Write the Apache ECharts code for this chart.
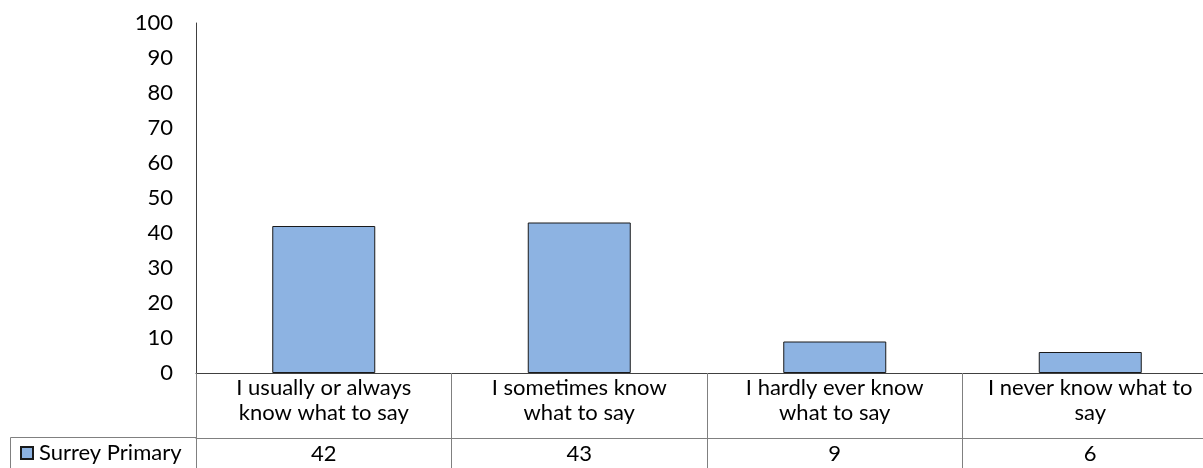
<!DOCTYPE html>
<html>
<head>
<meta charset="utf-8">
<script src="https://cdn.jsdelivr.net/npm/echarts@6/dist/echarts.min.js"></script>
<style>
html,body{margin:0;padding:0;background:#fff;overflow:hidden;width:1203px;height:468px;}
#c{width:1218px;height:468px;}
</style>
</head>
<body>
<div id="c"></div>
<script>
var categories = [
  "I usually or always\nknow what to say",
  "I sometimes know\nwhat to say",
  "I hardly ever know\nwhat to say",
  "I never know what to\nsay"
];
var seriesName = "Surrey Primary";
var values = [42, 43, 9, 6];
var yTicks = { min: 0, max: 100, interval: 10 };

var FONT = 'Lato';
var FS = 22;
var chart = echarts.init(document.getElementById('c'), null, { renderer: 'canvas' });
chart.setOption({
  animation: false,
  backgroundColor: '#ffffff',
  textStyle: { fontFamily: FONT },
  grid: { left: 196, top: 23, right: 0, height: 350, containLabel: false },
  legend: {
    data: [seriesName],
    left: 15, top: 437,
    icon: 'rect',
    itemWidth: 12, itemHeight: 12, itemGap: 4,
    textStyle: { fontFamily: FONT, fontSize: FS, color: '#000', padding: [0, 0, 3, 1] },
    selectedMode: false
  },
  xAxis: [
    {
      type: 'category',
      data: categories,
      position: 'bottom',
      boundaryGap: true,
      axisLine: { show: true, lineStyle: { color: '#404040', width: 1 } },
      axisTick: { show: true, inside: false, length: 96, interval: 0, lineStyle: { color: '#808080', width: 1 } },
      axisLabel: { interval: 0, margin: 2, fontFamily: FONT, fontSize: FS, color: '#000', lineHeight: 25, align: 'center' },
      splitLine: { show: false }
    },
    {
      type: 'category',
      data: values.map(String),
      position: 'bottom',
      offset: 65,
      boundaryGap: true,
      axisLine: { show: true, lineStyle: { color: '#808080', width: 1 } },
      axisTick: { show: false },
      axisLabel: { interval: 0, margin: 5, fontFamily: FONT, fontSize: FS, color: '#000' },
      splitLine: { show: false }
    }
  ],
  yAxis: {
    type: 'value',
    min: yTicks.min, max: yTicks.max, interval: yTicks.interval,
    axisLine: { show: true, lineStyle: { color: '#404040', width: 1 } },
    axisTick: { show: false },
    axisLabel: { margin: 23, fontFamily: FONT, fontSize: FS, color: '#000' },
    splitLine: { show: false }
  },
  series: [{
    name: seriesName,
    type: 'bar',
    data: values,
    barWidth: 103,
    itemStyle: { color: '#8DB3E2', borderColor: '#1a1a1a', borderWidth: 1 }
  }],
  graphic: [{
    type: 'polyline',
    shape: { points: [[196, 437.5], [10.5, 437.5], [10.5, 468]] },
    style: { stroke: '#808080', lineWidth: 1, fill: null },
    silent: true
  }]
});
</script>
</body>
</html>
